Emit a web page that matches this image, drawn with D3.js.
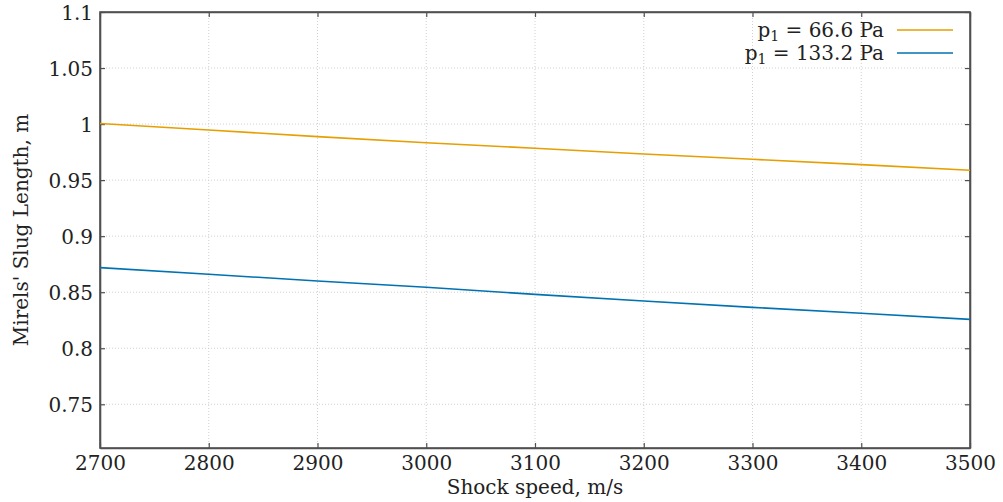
<!DOCTYPE html>
<html><head><meta charset="utf-8">
<script src="https://cdn.jsdelivr.net/npm/d3@7"></script>
<style>body{margin:0;background:#fff}svg{display:block}text{font-family:"DejaVu Serif",serif;fill:#222}</style>
</head><body><svg id="c" width="1003" height="502"></svg>
<script>
const speeds = [2700, 2800, 2900, 3000, 3100, 3200, 3300, 3400, 3500];
const slugLow = [1.0005, 0.9947, 0.9888, 0.9834, 0.9784, 0.9733, 0.9686, 0.9638, 0.9588];
const slugHigh = [0.8719, 0.8660, 0.8600, 0.8544, 0.8481, 0.8422, 0.8365, 0.8312, 0.8258];
const xTicks = [2700, 2800, 2900, 3000, 3100, 3200, 3300, 3400, 3500];
const yTicks = [0.75, 0.8, 0.85, 0.9, 0.95, 1, 1.05, 1.1];
const seriesNames = ["66.6 Pa", "133.2 Pa"];
const seriesColors = ["#e69f00", "#0072b2"];

const svg = d3.select("#c");
const L = 100, R = 970, T = 12, B = 448;
const FS = "20px";
const x = d3.scaleLinear().domain([2700, 3500]).range([L, R]);
const y = d3.scaleLinear().domain([0.711, 1.1]).range([B, T]);

// grid
const g = svg.append("g");
xTicks.slice(1, -1).forEach(v => g.append("line").attr("x1", x(v)).attr("x2", x(v)).attr("y1", T).attr("y2", B)
  .attr("stroke", "#d0d0d0").attr("stroke-dasharray", "1,2").attr("stroke-width", 1));
yTicks.slice(0, -1).forEach(v => g.append("line").attr("x1", L).attr("x2", R).attr("y1", y(v)).attr("y2", y(v))
  .attr("stroke", "#d0d0d0").attr("stroke-dasharray", "1,2").attr("stroke-width", 1));

// axes
const fmt = d => String(+d.toFixed(2));
const ax = svg.append("g").attr("transform", `translate(0,${B})`).call(d3.axisBottom(x).tickValues(xTicks).tickFormat(d3.format("d")).tickSizeInner(-5).tickSizeOuter(0).tickPadding(10));
const axT = svg.append("g").attr("transform", `translate(0,${T})`).call(d3.axisTop(x).tickValues(xTicks).tickFormat("").tickSizeInner(-5).tickSizeOuter(0));
const ay = svg.append("g").attr("transform", `translate(${L},0)`).call(d3.axisLeft(y).tickValues(yTicks).tickFormat(fmt).tickSizeInner(-5).tickSizeOuter(0).tickPadding(7));
const ayR = svg.append("g").attr("transform", `translate(${R},0)`).call(d3.axisRight(y).tickValues(yTicks).tickFormat("").tickSizeInner(-5).tickSizeOuter(0));
[ax, axT, ay, ayR].forEach(a => {
  a.select(".domain").attr("stroke", "#505050").attr("stroke-width", 1.6);
  a.selectAll(".tick line").attr("stroke", "#505050").attr("stroke-width", 1.2);
  a.selectAll("text").style("font-family", "DejaVu Serif").style("font-size", FS).attr("fill", "#222");
});
ax.selectAll("text").attr("dy", "0.6em");
ay.selectAll("text").attr("dy", "0.35em");
svg.append("rect").attr("x", L).attr("y", T).attr("width", R - L).attr("height", B - T).attr("fill", "none").attr("stroke", "#505050").attr("stroke-width", 1.6);

// lines
const line = d3.line().x((d, i) => x(speeds[i])).y(d => y(d));
[slugLow, slugHigh].forEach((s, k) => svg.append("path").datum(s).attr("d", line).attr("fill", "none").attr("stroke", seriesColors[k]).attr("stroke-width", 1.6));

// labels
svg.append("text").attr("x", 535).attr("y", 494).attr("text-anchor", "middle").style("font-size", FS).text("Shock speed, m/s");
svg.append("text").attr("transform", `translate(28,${(T + B) / 2}) rotate(-90)`).attr("text-anchor", "middle").style("font-size", FS).text("Mirels' Slug Length, m");

// legend
const lg = svg.append("g");
seriesNames.forEach((nm, k) => {
  const yy = 30 + k * 23;
  const t = lg.append("text").attr("x", 884).attr("y", yy).attr("dy", "0.35em").attr("text-anchor", "end").style("font-size", FS);
  t.append("tspan").text("p");
  t.append("tspan").attr("dy", "4").style("font-size", "14px").text("1");
  t.append("tspan").attr("dy", "-4").text(" = " + nm);
  lg.append("line").attr("x1", 897).attr("x2", 953).attr("y1", yy).attr("y2", yy).attr("stroke", seriesColors[k]).attr("stroke-width", 1.6);
});
</script></body></html>
